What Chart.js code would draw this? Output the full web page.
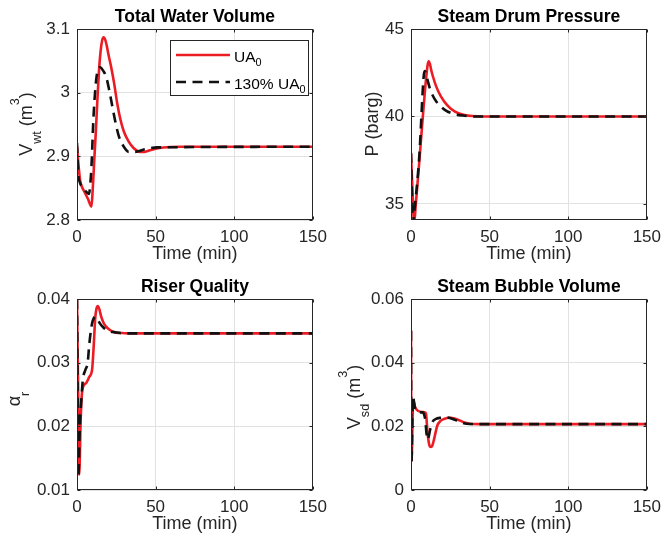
<!DOCTYPE html>
<html>
<head>
<meta charset="utf-8">
<script src="https://cdn.jsdelivr.net/npm/chart.js@4.4.1/dist/chart.umd.min.js"></script>
<style>
  html, body { margin: 0; padding: 0; background: #fff; }
  body { width: 668px; height: 543px; position: relative; overflow: hidden; }
  canvas { position: absolute; }
</style>
</head>
<body>
<canvas id="water" width="334" height="270" style="left:0;top:0"></canvas>
<canvas id="pressure" width="334" height="270" style="left:334px;top:0"></canvas>
<canvas id="quality" width="334" height="273" style="left:0;top:270px"></canvas>
<canvas id="bubble" width="334" height="273" style="left:334px;top:270px"></canvas>
<script>
// ---- data (time in min) ----
const timeTicks = [0, 50, 100, 150];

// Total Water Volume (m^3)
const tWaterUA  = [0, 1, 2, 3, 5, 7, 9.2, 10, 11, 12, 13, 14, 15, 16, 17, 18, 19, 20, 21.5, 23.6, 25.6, 27.7, 29.8, 32.9, 36, 40, 43, 47, 55, 66, 150];
const waterUA   = [2.916, 2.885, 2.862, 2.853, 2.843, 2.833, 2.821, 2.848, 2.895, 2.940, 2.990, 3.035, 3.065, 3.082, 3.087, 3.083, 3.073, 3.060, 3.043, 3.015, 2.983, 2.957, 2.939, 2.923, 2.913, 2.907, 2.907, 2.910, 2.914, 2.915, 2.915];
const tWater130 = [0, 0.8, 2, 3, 4.5, 6, 7.6, 8.5, 9.2, 10.5, 12.2, 13.5, 14.8, 16.5, 18.4, 20.5, 22.5, 24.6, 26.7, 29.8, 32.9, 37, 43, 51, 150];
const water130  = [2.921, 2.873, 2.858, 2.853, 2.848, 2.844, 2.841, 2.858, 2.884, 2.962, 3.020, 3.037, 3.040, 3.035, 3.026, 3.004, 2.978, 2.952, 2.931, 2.915, 2.907, 2.907, 2.911, 2.914, 2.915];
const waterTicks = [2.8, 2.9, 3, 3.1];

// Steam Drum Pressure (barg)
const tPresUA  = [0, 1, 2, 3, 5, 7, 9, 10.5, 11.3, 12, 13, 14, 16, 19, 23, 28, 34, 45, 150];
const presUA   = [37.9, 35.6, 33.9, 34.9, 37.1, 39.4, 41.6, 42.9, 43.15, 43.0, 42.6, 42.27, 41.72, 41.15, 40.65, 40.27, 40.08, 40.0, 40.0];
const tPres130 = [0, 0.6, 1.2, 2, 3.3, 5.4, 6.4, 7.4, 8.2, 8.8, 9.5, 10.5, 12, 15, 18, 22, 27, 33, 40, 150];
const pres130  = [37.9, 35.5, 33.9, 34.5, 35.6, 37.9, 39.6, 41.4, 42.4, 42.6, 42.45, 42.1, 41.6, 41.0, 40.65, 40.35, 40.15, 40.05, 40.0, 40.0];
const presTicks = [35, 40, 45];

// Riser Quality
const tQualUA  = [0, 0.7, 1.4, 2.4, 3.4, 5.8, 7.9, 9.6, 10.6, 11.6, 12.4, 13.2, 14.2, 15.3, 16.8, 18.4, 20.5, 22.5, 25, 28.7, 35, 150];
const qualUA   = [0.040, 0.026, 0.0124, 0.0215, 0.0257, 0.0268, 0.0278, 0.0289, 0.0325, 0.0370, 0.0385, 0.0389, 0.0384, 0.0373, 0.0363, 0.0357, 0.0352, 0.0349, 0.0347, 0.03465, 0.0346, 0.0346];
const tQual130 = [0, 0.4, 0.8, 1.8, 2.9, 3.7, 5.4, 6.8, 7.9, 9.6, 10.7, 11.5, 13, 14.5, 16.5, 18.4, 21, 23.6, 30, 150];
const qual130  = [0.040, 0.026, 0.012, 0.020, 0.0247, 0.0273, 0.0289, 0.0300, 0.0331, 0.0362, 0.0370, 0.0372, 0.0368, 0.0362, 0.0356, 0.0352, 0.0349, 0.0348, 0.0346, 0.0346];
const qualTicks = [0.01, 0.02, 0.03, 0.04];

// Steam Bubble Volume (m^3)
const tBubUA  = [0, 0.1, 0.3, 1.4, 2.5, 4.3, 8.5, 9.5, 10.5, 11.6, 12.6, 13.6, 14.7, 16.7, 18.8, 20.9, 25, 28, 31.2, 34, 37.4, 45, 150];
const bubUA   = [0.050, 0.030, 0.0088, 0.0282, 0.0262, 0.0249, 0.0244, 0.0240, 0.0181, 0.0142, 0.0135, 0.0140, 0.0160, 0.0202, 0.0217, 0.0223, 0.0227, 0.0224, 0.0218, 0.0212, 0.0208, 0.0207, 0.0207];
const tBub130 = [0, 0.1, 0.3, 1.2, 2.7, 5.4, 7.5, 8.5, 9.2, 9.8, 10.5, 11.2, 12.2, 13.6, 15.7, 19, 22.9, 26, 29.1, 32, 35.3, 45, 150];
const bub130  = [0.050, 0.030, 0.0088, 0.0292, 0.0255, 0.0244, 0.0244, 0.0234, 0.0215, 0.0180, 0.0158, 0.0166, 0.0190, 0.0213, 0.0223, 0.0227, 0.0228, 0.0224, 0.0218, 0.0212, 0.0208, 0.0207, 0.0207];
const bubTicks = [0, 0.02, 0.04, 0.06];

const seriesLabels = ['UA₀', '130% UA₀'];
const legendParts = [
    [{ t: 'UA' }, { t: '0', s: 'sub' }],
    [{ t: '130% UA' }, { t: '0', s: 'sub' }],
];

const FONT = '"Liberation Sans", Arial, Helvetica, sans-serif';
Chart.defaults.font.family = FONT;
Chart.defaults.font.size = 17;
Chart.defaults.color = '#262626';

const toPoints = (ts, vs) => ts.map((t, i) => ({ x: t, y: vs[i] }));

// text with sub/superscripts, baseline at y=0
function drawRich(ctx, parts, size, align, subDy, supDy) {
    const items = parts.map(p => {
        const fs = p.s ? size * 0.7 : size;
        ctx.font = fs + 'px ' + FONT;
        let dy = 0;
        if (p.s === 'sub') dy = size * subDy;
        if (p.s === 'sup') dy = -size * supDy;
        return { t: p.t, fs, dy, w: ctx.measureText(p.t).width };
    });
    const total = items.reduce((s, it) => s + it.w, 0);
    let x = align === 'center' ? -total / 2 : 0;
    ctx.textAlign = 'left';
    ctx.textBaseline = 'alphabetic';
    items.forEach(it => {
        ctx.font = it.fs + 'px ' + FONT;
        ctx.fillText(it.t, x, it.dy);
        x += it.w;
    });
}

function drawLegend(chart, lg) {
    const ctx = chart.ctx;
    ctx.save();
    ctx.fillStyle = '#fff';
    ctx.fillRect(lg.x, lg.y, lg.w, lg.h);
    ctx.strokeStyle = '#262626';
    ctx.lineWidth = 1;
    ctx.strokeRect(lg.x + 0.5, lg.y + 0.5, lg.w, lg.h);
    chart.data.datasets.forEach((ds, i) => {
        const yy = lg.y + lg.rows[i];
        ctx.strokeStyle = ds.borderColor;
        ctx.lineWidth = ds.borderWidth;
        ctx.setLineDash(ds.borderDash || []);
        ctx.beginPath();
        ctx.moveTo(lg.x + 6, yy);
        ctx.lineTo(lg.x + 60, yy);
        ctx.stroke();
        ctx.setLineDash([]);
        ctx.save();
        ctx.translate(lg.x + 64, yy + 6.5);
        ctx.fillStyle = '#000';
        drawRich(ctx, legendParts[i], 15.5, 'left', 0.28, 0.6);
        ctx.restore();
    });
    ctx.restore();
}

// MATLAB-like box, inward ticks, title and labels
const matlabAxes = {
    id: 'matlabAxes',
    afterDraw(chart, args, o) {
        const { ctx, chartArea: a } = chart;
        const xs = chart.scales.x, ys = chart.scales.y;
        const L = Math.round(a.left) + 0.5, R = Math.round(a.right) - 0.5;
        const T = Math.round(a.top) + 0.5, B = Math.round(a.bottom) - 0.5;
        ctx.save();
        ctx.strokeStyle = '#262626';
        ctx.lineWidth = 1;
        ctx.beginPath();
        xs.ticks.forEach(t => {
            const px = Math.round(xs.getPixelForValue(t.value)) + 0.5;
            ctx.moveTo(px, B); ctx.lineTo(px, B - 3);
            ctx.moveTo(px, T); ctx.lineTo(px, T + 3);
        });
        ys.ticks.forEach(t => {
            const py = Math.round(ys.getPixelForValue(t.value)) + 0.5;
            ctx.moveTo(L, py); ctx.lineTo(L + 3, py);
            ctx.moveTo(R, py); ctx.lineTo(R - 3, py);
        });
        ctx.stroke();
        ctx.strokeRect(L, T, R - L, B - T);

        ctx.fillStyle = '#000';
        ctx.textAlign = 'center';
        ctx.textBaseline = 'alphabetic';
        ctx.font = 'bold 17.5px ' + FONT;
        ctx.fillText(o.title, (a.left + a.right) / 2, a.top - 7);

        ctx.fillStyle = '#262626';
        ctx.font = '18px ' + FONT;
        ctx.fillText('Time (min)', (a.left + a.right) / 2, a.bottom + 39);

        ctx.translate(o.ylabelX, o.ylabelY);
        ctx.rotate(-Math.PI / 2);
        drawRich(ctx, o.ylabel, 18, 'center', 0.5, 0.7);
        ctx.restore();

        if (o.legend) drawLegend(chart, o.legend);
    }
};

function makePanel(id, p) {
    return new Chart(document.getElementById(id), {
        type: 'line',
        data: {
            datasets: [
                { label: seriesLabels[0], data: toPoints(p.tA, p.vA), borderColor: '#ec1c24', borderWidth: 2.6, order: 1 },
                { label: seriesLabels[1], data: toPoints(p.tB, p.vB), borderColor: '#111111', borderWidth: 2.6, borderDash: [10, 6.5], order: 0 },
            ],
        },
        options: {
            responsive: false,
            animation: false,
            events: [],
            layout: { padding: { top: 29, right: 15, left: 0, bottom: 0 } },
            elements: {
                point: { radius: 0 },
                line: { cubicInterpolationMode: 'monotone' },
            },
            plugins: {
                legend: { display: false },
                tooltip: { enabled: false },
                matlabAxes: { title: p.title, ylabel: p.ylabel, ylabelX: p.ylabelX, ylabelY: p.ylabelY, legend: p.legend },
            },
            scales: {
                x: {
                    type: 'linear', min: 0, max: 150,
                    afterFit: s => { s.height = p.xHeight; },
                    afterBuildTicks: s => { s.ticks = timeTicks.map(v => ({ value: v })); },
                    grid: { color: '#e2e2e2', drawTicks: false },
                    border: { display: false },
                    ticks: { padding: 7, maxRotation: 0, callback: v => String(v) },
                },
                y: {
                    type: 'linear', min: p.yMin, max: p.yMax,
                    afterFit: s => { s.width = 77; },
                    afterBuildTicks: s => { s.ticks = p.yTicks.map(v => ({ value: v })); },
                    grid: { color: '#e2e2e2', drawTicks: false },
                    border: { display: false },
                    ticks: { padding: 7, callback: v => String(v) },
                },
            },
        },
        plugins: [matlabAxes],
    });
}

makePanel('water', {
    title: 'Total Water Volume',
    tA: tWaterUA, vA: waterUA, tB: tWater130, vB: water130,
    yMin: 2.8, yMax: 3.1, yTicks: waterTicks, xHeight: 50,
    ylabel: [{ t: 'V' }, { t: 'wt', s: 'sub' }, { t: ' (m' }, { t: '3', s: 'sup' }, { t: ')' }],
    ylabelX: 31.5, ylabelY: 124,
    legend: { x: 170, y: 40, w: 138, h: 55, rows: [15, 42] },
});

makePanel('pressure', {
    title: 'Steam Drum Pressure',
    tA: tPresUA, vA: presUA, tB: tPres130, vB: pres130,
    yMin: 34.08, yMax: 45, yTicks: presTicks, xHeight: 50,
    ylabel: [{ t: 'P (barg)' }],
    ylabelX: 44, ylabelY: 124,
});

makePanel('quality', {
    title: 'Riser Quality',
    tA: tQualUA, vA: qualUA, tB: tQual130, vB: qual130,
    yMin: 0.01, yMax: 0.04, yTicks: qualTicks, xHeight: 53,
    ylabel: [{ t: 'α' }, { t: 'r', s: 'sub' }],
    ylabelX: 20, ylabelY: 129,
});

makePanel('bubble', {
    title: 'Steam Bubble Volume',
    tA: tBubUA, vA: bubUA, tB: tBub130, vB: bub130,
    yMin: 0, yMax: 0.06, yTicks: bubTicks, xHeight: 53,
    ylabel: [{ t: 'V' }, { t: 'sd', s: 'sub' }, { t: ' (m' }, { t: '3', s: 'sup' }, { t: ')' }],
    ylabelX: 25.5, ylabelY: 127,
});
</script>
</body>
</html>
